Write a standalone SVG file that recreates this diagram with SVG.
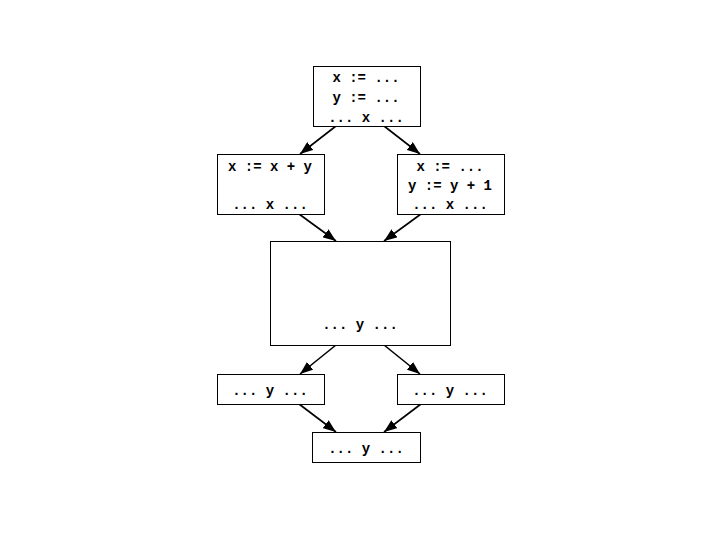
<svg xmlns="http://www.w3.org/2000/svg" width="720" height="540" viewBox="0 0 720 540">
<style>
.box{fill:#fff;stroke:#000;stroke-width:1}
.t{font-family:"Liberation Mono","Courier New",monospace;font-size:14px;font-weight:bold;fill:#000;text-anchor:middle}
.e{stroke:#000;stroke-width:1.6;fill:none;marker-end:url(#ah)}
</style>
<defs>
<marker id="ah" markerUnits="userSpaceOnUse" markerWidth="13" markerHeight="10" refX="13" refY="5" orient="auto">
<path d="M0,0 L13,5 L0,10 z" fill="#000"/>
</marker>
</defs>
<rect width="720" height="540" fill="#fff"/>
<g id="connectors">
<line class="e" x1="336" y1="126" x2="300" y2="154"/>
<line class="e" x1="384" y1="126" x2="420" y2="154"/>
<line class="e" x1="299" y1="214" x2="336" y2="241"/>
<line class="e" x1="421" y1="214" x2="384" y2="241"/>
<line class="e" x1="336" y1="345" x2="300" y2="374"/>
<line class="e" x1="384" y1="345" x2="420" y2="374"/>
<line class="e" x1="299" y1="404" x2="336" y2="432"/>
<line class="e" x1="421" y1="404" x2="384" y2="432"/>
</g>
<g id="n1">
<rect class="box" x="313.5" y="66.5" width="107" height="60"/>
<text class="t" x="366" y="82">x := ...</text>
<text class="t" x="366" y="102">y := ...</text>
<text class="t" x="366" y="121.5">... x ...</text>
</g>
<g id="n2">
<rect class="box" x="217.5" y="154.5" width="107" height="60"/>
<text class="t" x="270" y="171">x := x + y</text>
<text class="t" x="270" y="209">... x ...</text>
</g>
<g id="n3">
<rect class="box" x="397.5" y="154.5" width="107" height="60"/>
<text class="t" x="450" y="171">x := ...</text>
<text class="t" x="450" y="190">y := y + 1</text>
<text class="t" x="450" y="209">... x ...</text>
</g>
<g id="n4">
<rect class="box" x="270.5" y="241.5" width="180" height="104"/>
<text class="t" x="360" y="329">... y ...</text>
</g>
<g id="n5">
<rect class="box" x="217.5" y="374.5" width="107" height="30"/>
<text class="t" x="270" y="395">... y ...</text>
</g>
<g id="n6">
<rect class="box" x="397.5" y="374.5" width="107" height="30"/>
<text class="t" x="450" y="395">... y ...</text>
</g>
<g id="n7">
<rect class="box" x="312.5" y="432.5" width="108" height="30"/>
<text class="t" x="366" y="453">... y ...</text>
</g>
</svg>
